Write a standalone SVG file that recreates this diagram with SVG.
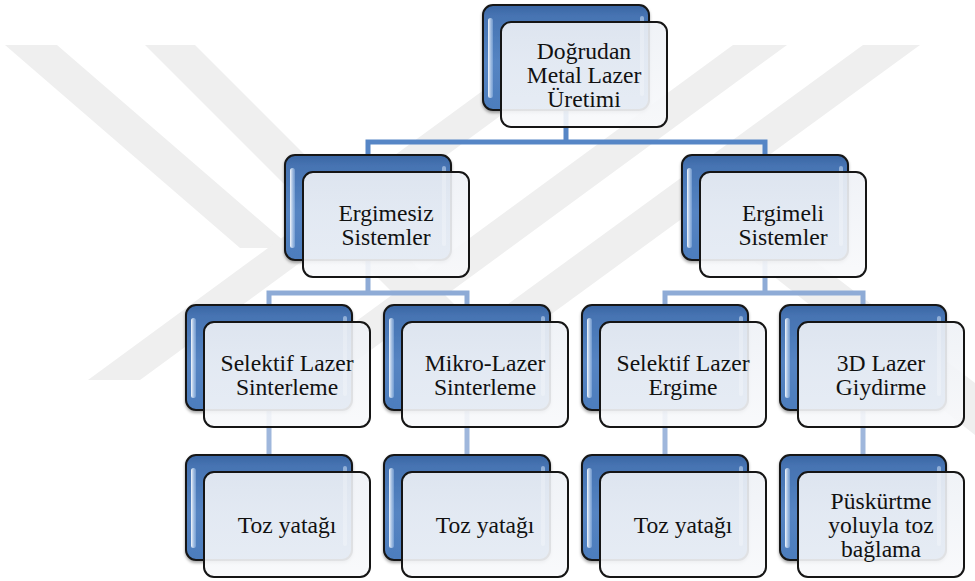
<svg xmlns="http://www.w3.org/2000/svg" xmlns:xlink="http://www.w3.org/1999/xlink" width="975" height="581" viewBox="0 0 975 581">
  <style>
    .wm { fill: #efefef; }
    .lbl { font-family: 'Liberation Serif', serif; font-size: 23.6px; fill: #111111; text-anchor: middle; }
    .c1 { fill: none; stroke: #5686c6; stroke-width: 5; }
    .c2 { fill: none; stroke: #8eabd6; stroke-width: 5; }
    .c3 { fill: none; stroke: #9fb7dc; stroke-width: 5; }
  </style>
  <defs>
    <linearGradient id="backGrad" x1="0" y1="0" x2="0" y2="1">
      <stop offset="0" stop-color="#3a66a3"/>
      <stop offset="0.1" stop-color="#4673b2"/>
      <stop offset="0.55" stop-color="#5584c2"/>
      <stop offset="1" stop-color="#4d7dbd"/>
    </linearGradient>
    <linearGradient id="hlGrad" x1="0" y1="0" x2="1" y2="0">
      <stop offset="0" stop-color="#ffffff" stop-opacity="0.95"/>
      <stop offset="1" stop-color="#a9c8ee" stop-opacity="0.4"/>
    </linearGradient>
    <linearGradient id="frontGrad" x1="0" y1="0" x2="0" y2="1">
      <stop offset="0" stop-color="#eef1f6"/>
      <stop offset="1" stop-color="#f8f9fb"/>
    </linearGradient>
    <filter id="sh" x="-10%" y="-10%" width="125%" height="130%">
      <feDropShadow dx="0" dy="2" stdDeviation="1.5" flood-color="#000000" flood-opacity="0.35"/>
    </filter>
    <g id="card">
      <rect x="0" y="0" width="166" height="105" rx="10" ry="10" fill="url(#backGrad)" stroke="#151515" stroke-width="2" filter="url(#sh)"/>
      <rect x="5" y="13" width="5" height="80" rx="2.5" fill="url(#hlGrad)"/>
      <rect x="157" y="11" width="4" height="80" rx="2" fill="#cfe0f5" fill-opacity="0.55"/>
      <rect x="18" y="17" width="166" height="105" rx="10" ry="10" fill="url(#frontGrad)" fill-opacity="0.9" stroke="#151515" stroke-width="2"/>
    </g>
  </defs>

  <rect x="0" y="0" width="975" height="581" fill="#ffffff"/>

  <g id="watermark">
    <polygon class="wm" points="5,45 57,45 292,248 240,248"/>
    <polygon class="wm" points="545,45 597,45 140,380 88,380"/>
    <polygon class="wm" points="145,45 195,45 470,320 420,320"/>
    <polygon class="wm" points="733,45 787,45 330,380 276,380"/>
    <polygon class="wm" points="863,45 920,45 461,380 404,380"/>
    <polygon class="wm" points="740,250 800,250 975,383 975,435"/>
  </g>

  <g id="connectors">
    <path class="c1" d="M566,103 V142 M368,155 V142 H765 V155"/>
    <path class="c2" d="M368,260 V293 M269,305 V293 H467 V305"/>
    <path class="c2" d="M765,260 V293 M665,305 V293 H863 V305"/>
    <path class="c3" d="M269,410 V455 M467,410 V455 M665,410 V455 M863,410 V455"/>
  </g>

  <g id="node-dogrudan" transform="translate(483,5)">
    <use href="#card" xlink:href="#card"/>
    <text class="lbl" x="101" y="53.5">Doğrudan</text>
    <text class="lbl" x="101" y="77.5">Metal Lazer</text>
    <text class="lbl" x="101" y="101.5">Üretimi</text>
  </g>

  <g id="node-ergimesiz" transform="translate(285,155)">
    <use href="#card" xlink:href="#card"/>
    <text class="lbl" x="101" y="65.5">Ergimesiz</text>
    <text class="lbl" x="101" y="89.5">Sistemler</text>
  </g>

  <g id="node-ergimeli" transform="translate(682,155)">
    <use href="#card" xlink:href="#card"/>
    <text class="lbl" x="101" y="65.5">Ergimeli</text>
    <text class="lbl" x="101" y="89.5">Sistemler</text>
  </g>

  <g id="node-sls" transform="translate(186,305)">
    <use href="#card" xlink:href="#card"/>
    <text class="lbl" x="101" y="65.5">Selektif Lazer</text>
    <text class="lbl" x="101" y="89.5">Sinterleme</text>
  </g>

  <g id="node-mikro" transform="translate(384,305)">
    <use href="#card" xlink:href="#card"/>
    <text class="lbl" x="101" y="65.5">Mikro-Lazer</text>
    <text class="lbl" x="101" y="89.5">Sinterleme</text>
  </g>

  <g id="node-slm" transform="translate(582,305)">
    <use href="#card" xlink:href="#card"/>
    <text class="lbl" x="101" y="65.5">Selektif Lazer</text>
    <text class="lbl" x="101" y="89.5">Ergime</text>
  </g>

  <g id="node-3d" transform="translate(780,305)">
    <use href="#card" xlink:href="#card"/>
    <text class="lbl" x="101" y="65.5">3D Lazer</text>
    <text class="lbl" x="101" y="89.5">Giydirme</text>
  </g>

  <g id="node-toz1" transform="translate(186,455)">
    <use href="#card" xlink:href="#card"/>
    <text class="lbl" x="101" y="77.5">Toz yatağı</text>
  </g>

  <g id="node-toz2" transform="translate(384,455)">
    <use href="#card" xlink:href="#card"/>
    <text class="lbl" x="101" y="77.5">Toz yatağı</text>
  </g>

  <g id="node-toz3" transform="translate(582,455)">
    <use href="#card" xlink:href="#card"/>
    <text class="lbl" x="101" y="77.5">Toz yatağı</text>
  </g>

  <g id="node-puskurtme" transform="translate(780,455)">
    <use href="#card" xlink:href="#card"/>
    <text class="lbl" x="101" y="53.5">Püskürtme</text>
    <text class="lbl" x="101" y="77.5">yoluyla toz</text>
    <text class="lbl" x="101" y="101.5">bağlama</text>
  </g>
</svg>
